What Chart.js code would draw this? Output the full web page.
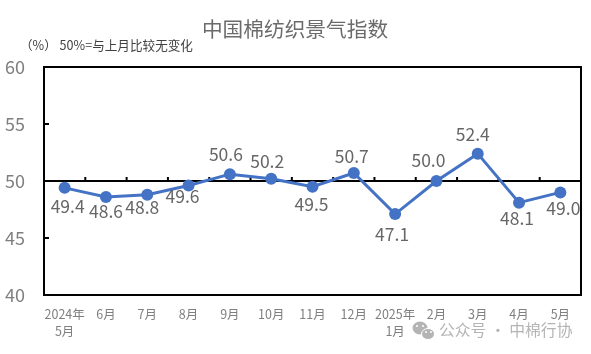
<!DOCTYPE html>
<html>
<head>
<meta charset="utf-8">
<style>
  html, body { margin: 0; padding: 0; background: #fff; }
  #wrap { width: 591px; height: 354px; }
</style>
<script src="https://cdn.jsdelivr.net/npm/chart.js@4"></script>
</head>
<body>
<div id="wrap"><canvas id="chart"></canvas></div>
<script>
const FONT = '"Noto Sans CJK SC", "Noto Sans", sans-serif';

const TITLE = '中国棉纺织景气指数';
const UNIT_NOTE = '（%） 50%=与上月比较无变化';
const WATERMARK = '公众号 · 中棉行协';
const MONTHS = [['2024年', '5月'], '6月', '7月', '8月', '9月', '10月', '11月', '12月', ['2025年', '1月'], '2月', '3月', '4月', '5月'];
const INDEX_VALUES = [49.4, 48.6, 48.8, 49.6, 50.6, 50.2, 49.5, 50.7, 47.1, 50.0, 52.4, 48.1, 49.0];
const Y_TICKS = [40, 45, 50, 55, 60];
const BASELINE = 50;

// label nudges from the point
const LABEL_DX = [3, 0, -5, -6, -4, -4, -1, -2, -3, -8, -5, -2, 3];
const LABEL_DY = [19, 14, 13, 11, -20, -17, 18, -17, 20, -21, -19, 16, 16];

// ── Frame, 50 line with its ticks, y ticks ────────────────────────────────────
const framePlugin = {
  id: 'frame',
  beforeDatasetsDraw(chart) {
    const { ctx, chartArea: a, scales: { x, y } } = chart;
    ctx.save();
    ctx.strokeStyle = '#000';
    ctx.lineWidth = 2;
    ctx.strokeRect(a.left, a.top, a.right - a.left, a.bottom - a.top);

    const y50 = y.getPixelForValue(BASELINE);
    ctx.beginPath();
    ctx.moveTo(a.left, y50);
    ctx.lineTo(a.right, y50);
    for (let i = 1; i < MONTHS.length; i++) {
      const tx = (x.getPixelForValue(i - 1) + x.getPixelForValue(i)) / 2;
      ctx.moveTo(tx, y50);
      ctx.lineTo(tx, y50 - 4);
    }
    Y_TICKS.filter(v => v !== BASELINE && v > y.min && v < y.max).forEach(v => {
      const ty = y.getPixelForValue(v);
      ctx.moveTo(a.left, ty);
      ctx.lineTo(a.left + 5, ty);
    });
    ctx.stroke();
    ctx.restore();
  }
};

// ── Title, data labels, unit note, watermark ──────────────────────────────────
const textPlugin = {
  id: 'texts',
  afterDatasetsDraw(chart) {
    const { ctx } = chart;
    const points = chart.getDatasetMeta(0).data;
    ctx.save();
    ctx.textAlign = 'center';
    ctx.textBaseline = 'middle';

    ctx.fillStyle = '#6b6b6b';
    ctx.font = `20.7px ${FONT}`;
    ctx.fillText(TITLE, 295, 29);

    ctx.fillStyle = '#666666';
    ctx.font = `17.5px ${FONT}`;
    points.forEach((p, i) => {
      ctx.fillText(INDEX_VALUES[i].toFixed(1), p.x + LABEL_DX[i], p.y + LABEL_DY[i]);
    });

    ctx.textAlign = 'left';
    ctx.fillStyle = '#404040';
    ctx.font = `12.6px ${FONT}`;
    ctx.fillText(UNIT_NOTE, 20, 45);

    ctx.fillStyle = '#b4b4b4';
    ctx.font = `15.8px ${FONT}`;
    ctx.fillText(WATERMARK, 439, 330);

    // wechat mark
    ctx.beginPath();
    ctx.ellipse(420, 328, 7.5, 6.5, 0, 0, Math.PI * 2);
    ctx.fill();
    ctx.beginPath();
    ctx.ellipse(428, 334, 6.5, 5.5, 0, 0, Math.PI * 2);
    ctx.strokeStyle = '#fff';
    ctx.lineWidth = 1;
    ctx.fill();
    ctx.stroke();
    ctx.fillStyle = '#fff';
    [[417, 326], [423, 326], [426, 332], [431, 332]].forEach(([ex, ey]) => {
      ctx.beginPath();
      ctx.arc(ex, ey, 1, 0, Math.PI * 2);
      ctx.fill();
    });
    ctx.restore();
  }
};

new Chart(document.getElementById('chart'), {
  type: 'line',
  data: {
    labels: MONTHS,
    datasets: [{
      data: INDEX_VALUES,
      borderColor: '#4472C4',
      backgroundColor: '#4472C4',
      borderWidth: 3,
      pointRadius: 6,
      pointBorderWidth: 0,
      tension: 0,
      clip: false
    }]
  },
  options: {
    responsive: true,
    maintainAspectRatio: false,
    animation: false,
    layout: { padding: { top: 67, right: 10, bottom: 0, left: 0 } },
    plugins: {
      legend: { display: false },
      tooltip: { enabled: false }
    },
    scales: {
      x: {
        type: 'category',
        offset: true,
        grid: { display: false },
        border: { display: false },
        afterFit: s => { s.height = 59; },
        ticks: {
          color: '#7f7f7f',
          font: { family: FONT, size: 12.5, lineHeight: 1.4 },
          padding: 2,
          maxRotation: 0,
          autoSkip: false
        }
      },
      y: {
        min: 40,
        max: 60,
        afterFit: s => { s.width = 44; },
        afterBuildTicks: s => { s.ticks = Y_TICKS.map(value => ({ value })); },
        grid: { display: false },
        border: { display: false },
        ticks: {
          color: '#7f7f7f',
          font: { family: FONT, size: 18 },
          padding: 11
        }
      }
    }
  },
  plugins: [framePlugin, textPlugin]
});
</script>
</body>
</html>
